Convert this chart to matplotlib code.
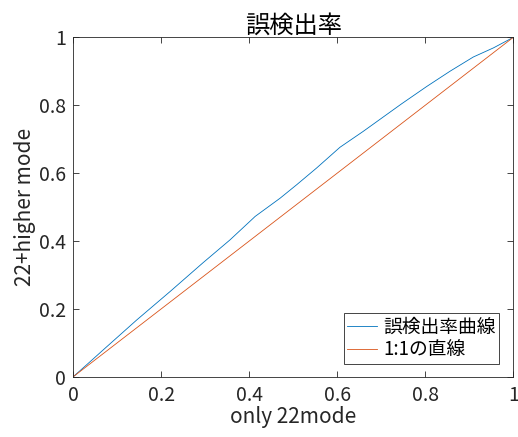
import matplotlib
matplotlib.use("Agg")
import matplotlib.pyplot as plt

plt.rcParams['font.family'] = ['Noto Sans CJK JP', 'DejaVu Sans']

# Data
curve_x = [0.0, 0.038, 0.068, 0.144, 0.220, 0.295, 0.356, 0.409, 0.413,
           0.470, 0.508, 0.553, 0.606, 0.659, 0.746, 0.803, 0.856, 0.909, 0.955, 1.0]
curve_y = [0.0, 0.044, 0.079, 0.167, 0.251, 0.336, 0.403, 0.467, 0.472,
           0.526, 0.566, 0.615, 0.676, 0.723, 0.804, 0.855, 0.900, 0.942, 0.969, 1.0]
line_x = [0.0, 1.0]
line_y = [0.0, 1.0]

title = "誤検出率"
xlabel = "only 22mode"
ylabel = "22+higher mode"
legend_labels = ["誤検出率曲線", "1:1の直線"]
ticks = [0, 0.2, 0.4, 0.6, 0.8, 1]
tick_labels = ["0", "0.2", "0.4", "0.6", "0.8", "1"]

fig = plt.figure(figsize=(5.18, 4.37), dpi=100)
ax = fig.add_axes([0.1415, 0.138, 0.8495, 0.7766])

ax.plot(curve_x, curve_y, color='#0072BD', lw=0.6, label=legend_labels[0])
ax.plot(line_x, line_y, color='#D95319', lw=0.6, label=legend_labels[1])

ax.set_xlim(0, 1)
ax.set_ylim(0, 1)
ax.set_xticks(ticks)
ax.set_xticklabels(tick_labels)
ax.set_yticks(ticks)
ax.set_yticklabels(tick_labels)

text_color = '#262626'
ax.tick_params(direction='in', length=4, width=0.6, colors='#262626',
               labelsize=14, labelcolor=text_color, top=True, right=True)
ax.tick_params(axis='x', pad=6)
ax.tick_params(axis='y', pad=5)
for s in ax.spines.values():
    s.set_color('#262626')
    s.set_linewidth(0.6)

ax.set_title(title, fontsize=17.5, color='black', pad=3)
ax.set_xlabel(xlabel, fontsize=15, color=text_color, labelpad=0)
ax.set_ylabel(ylabel, fontsize=15, color=text_color, labelpad=2)

leg = ax.legend(loc='lower right', bbox_to_anchor=(0.968, 0.0375), borderaxespad=0,
                fontsize=13.5, fancybox=False, framealpha=1, edgecolor='#262626',
                handlelength=1.6, handletextpad=0.3, borderpad=0.2, labelspacing=0.1)
leg.get_frame().set_linewidth(0.6)

fig.savefig("out.png", dpi=100)
